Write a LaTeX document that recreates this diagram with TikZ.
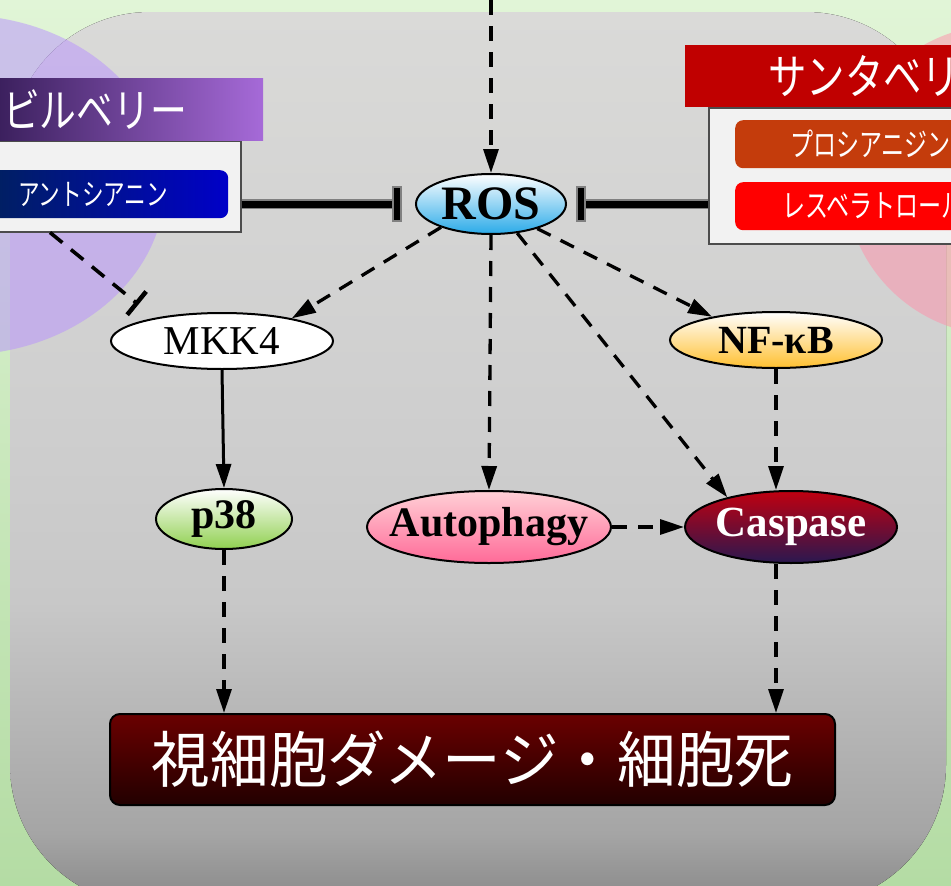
\documentclass[tikz,border=0pt]{standalone}
\usepackage{fontspec}
\setmainfont{Liberation Serif}
\newfontfamily\jpA[FakeStretch=0.96]{Noto Sans CJK JP}
\newfontfamily\jpB[FakeStretch=0.8]{Noto Sans CJK JP}
\newfontfamily\jpC[FakeStretch=0.72]{Noto Sans CJK JP}
\usetikzlibrary{shapes.geometric,arrows.meta,calc}
\definecolor{bgTop}{HTML}{E1F5D7}
\definecolor{bgBot}{HTML}{B4DCA4}
\definecolor{gA}{HTML}{DADAD8}
\definecolor{gB}{HTML}{CFCFCF}
\definecolor{gC}{HTML}{C8C8C8}
\definecolor{gD}{HTML}{A5A5A5}
\definecolor{gE}{HTML}{888888}
\definecolor{purpC}{HTML}{B890FF}
\definecolor{pinkC}{HTML}{FF90AA}
\definecolor{bilL}{HTML}{3A1F5C}
\definecolor{bilR}{HTML}{A66AD8}
\definecolor{antL}{HTML}{002060}
\definecolor{antR}{HTML}{0000C8}
\definecolor{santaC}{HTML}{C00000}
\definecolor{procC}{HTML}{C43C0C}
\definecolor{resvC}{HTML}{FF0000}
\definecolor{boxC}{HTML}{F2F2F2}
\definecolor{rosB}{HTML}{2AAAE8}
\definecolor{nfB}{HTML}{FFC030}
\definecolor{p38B}{HTML}{90D050}
\definecolor{autT}{HTML}{FFD0D6}
\definecolor{autB}{HTML}{FF6A98}
\definecolor{casT}{HTML}{C00010}
\definecolor{casB}{HTML}{2A1850}
\definecolor{finT}{HTML}{6A0000}
\definecolor{finB}{HTML}{220000}
\pgfdeclareverticalshading{grayshade}{100bp}{color(0bp)=(gE); color(25bp)=(gE); color(29bp)=(gD); color(42bp)=(gC); color(53bp)=(gB); color(75bp)=(gA); color(100bp)=(gA)}
\tikzset{
  ell/.style={ellipse, draw=black, line width=2pt, inner sep=0pt},
  nodetext/.style={inner sep=0pt},
  boxbody/.style={rectangle, fill=boxC, draw=black!70, line width=1.5pt, inner sep=0pt, anchor=north west},
  pill/.style={rectangle, rounded corners=8pt, inner sep=0pt, anchor=north west},
  act/.style={line width=3.3pt, dash pattern=on 15pt off 11pt, -{Triangle[length=24pt,width=15pt]}},
  solidact/.style={line width=3pt, -{Triangle[length=24pt,width=15pt]}},
  thickinh/.style={draw=black!50, line width=1.5pt, double=black, double distance=7pt},
  barnode/.style={rectangle, fill=black, draw=black!50, line width=1.5pt, minimum width=8pt, minimum height=34pt, inner sep=0pt},
  labwhite/.style={text=white, inner sep=0pt, anchor=west},
}
\begin{document}
\begin{tikzpicture}[x=1pt,y=-1pt]
\useasboundingbox (0,0) rectangle (951,886);
\clip (0,0) rectangle (951,886);
% background
\fill[top color=bgTop, bottom color=bgBot] (0,0) rectangle (951,886);
\fill[shading=grayshade, rounded corners=140pt] (10,12) rectangle (946,905);
\fill[purpC, opacity=0.5] (-40,185) ellipse [x radius=205, y radius=170];
\fill[pinkC, opacity=0.5] (1000,180) circle [radius=155];

% Bilberry box
\node[boxbody, minimum width=245pt, minimum height=91pt] (bilbody) at (-5,140) {};
\node[rectangle, anchor=north west, minimum width=268pt, minimum height=62pt, inner sep=0pt, left color=bilL, right color=bilR] (bilhead) at (-5,78) {};
\node[labwhite, font=\jpB\fontsize{46}{50}\selectfont] (biltext) at (3,109) {ビルベリー};
\node[pill, minimum width=238pt, minimum height=48pt, left color=antL, right color=antR] (antho) at (-10,170) {};
\node[labwhite, font=\jpC\fontsize{30}{34}\selectfont] (anthotext) at (18,194) {アントシアニン};

% Santa box
\node[boxbody, minimum width=260pt, minimum height=136pt] (santabody) at (708,107) {};
\node[rectangle, anchor=north west, minimum width=280pt, minimum height=62pt, inner sep=0pt, fill=santaC] (santahead) at (685,45) {};
\node[labwhite, font=\jpB\fontsize{48}{52}\selectfont] (santatext) at (768,76) {サンタベリー};
\node[pill, minimum width=240pt, minimum height=48pt, fill=procC] (proc) at (735,120) {};
\node[labwhite, font=\jpC\fontsize{32}{36}\selectfont] (proctext) at (790,144) {プロシアニジン};
\node[pill, minimum width=240pt, minimum height=48pt, fill=resvC] (resv) at (735,182) {};
\node[labwhite, font=\jpC\fontsize{32}{36}\selectfont] (resvtext) at (782,206) {レスベラトロール};

% nodes (shapes)
\node[ell, minimum width=150pt, minimum height=60pt, top color=white, bottom color=rosB] (ROS) at (491,204) {};
\node[ell, minimum width=222pt, minimum height=56pt, fill=white] (MKK4) at (222,341) {};
\node[ell, minimum width=212pt, minimum height=56pt, top color=white, bottom color=nfB] (NFkB) at (776,340) {};
\node[ell, minimum width=136pt, minimum height=60pt, top color=white, bottom color=p38B] (p38) at (224,519) {};
\node[ell, minimum width=244pt, minimum height=72pt, top color=autT, bottom color=autB] (Auto) at (489,527) {};
\node[ell, minimum width=212pt, minimum height=72pt, top color=casT, bottom color=casB] (Casp) at (791,527) {};
\node[rectangle, rounded corners=10pt, draw=black, line width=2pt, minimum width=725pt, minimum height=91pt, inner sep=0pt, top color=finT, bottom color=finB, text=white, font=\jpA\fontsize{61}{64}\selectfont] (final) at (472.5,759.5) {視細胞ダメージ・細胞死};
% node texts
\node[nodetext, font=\bfseries\fontsize{48}{50}\selectfont] (ROSt) at (ROS) {ROS};
\node[nodetext, font=\fontsize{41}{43}\selectfont] (MKK4t) at (MKK4) {MKK4};
\node[nodetext, font=\bfseries\fontsize{40}{42}\selectfont] (NFkBt) at (NFkB) {NF-κB};
\node[nodetext, font=\bfseries\fontsize{42}{44}\selectfont] (p38t) at (p38) {p38};
\node[nodetext, font=\bfseries\fontsize{42}{44}\selectfont] (Autot) at (Auto) {Autophagy};
\node[nodetext, text=white, font=\bfseries\fontsize{43}{45}\selectfont] (Caspt) at (Casp) {Caspase};

% inhibition bars
\node[barnode] (barL) at (397,204) {};
\node[barnode] (barR) at (581,204) {};

% connectors
\coordinate (topin) at (491,0);
\coordinate (cx) at (776,0);
\draw[act] (topin) -- (ROS.north);
\draw[thickinh] (bilbody.east |- barL) -- (barL.center);
\draw[thickinh] (santabody.west |- barR) -- (barR.center);
\node[barnode] at (barL) {};
\node[barnode] at (barR) {};
\draw[line width=3.6pt, dash pattern=on 16pt off 11pt, -{Bar[width=30pt,line width=4.5pt]}, shorten >=21pt] ($(bilbody.south west)+(55,0)$) -- (MKK4.161);
\draw[act] (ROS.205) -- (MKK4.18);
\draw[act] (ROS.south) -- (Auto.north);
\draw[act] (ROS.-48) -- (Casp.155);
\draw[act] (ROS.-28) -- (NFkB.160);
\draw[act] (cx |- NFkB.south) -- (cx |- Casp.north);
\draw[act] (Auto.east) -- (Casp.west);
\draw[solidact] (MKK4.south) -- (p38.north);
\draw[act] (p38.south) -- (p38.south |- final.north);
\draw[act] (cx |- Casp.south) -- (cx |- final.north);
\end{tikzpicture}
\end{document}
